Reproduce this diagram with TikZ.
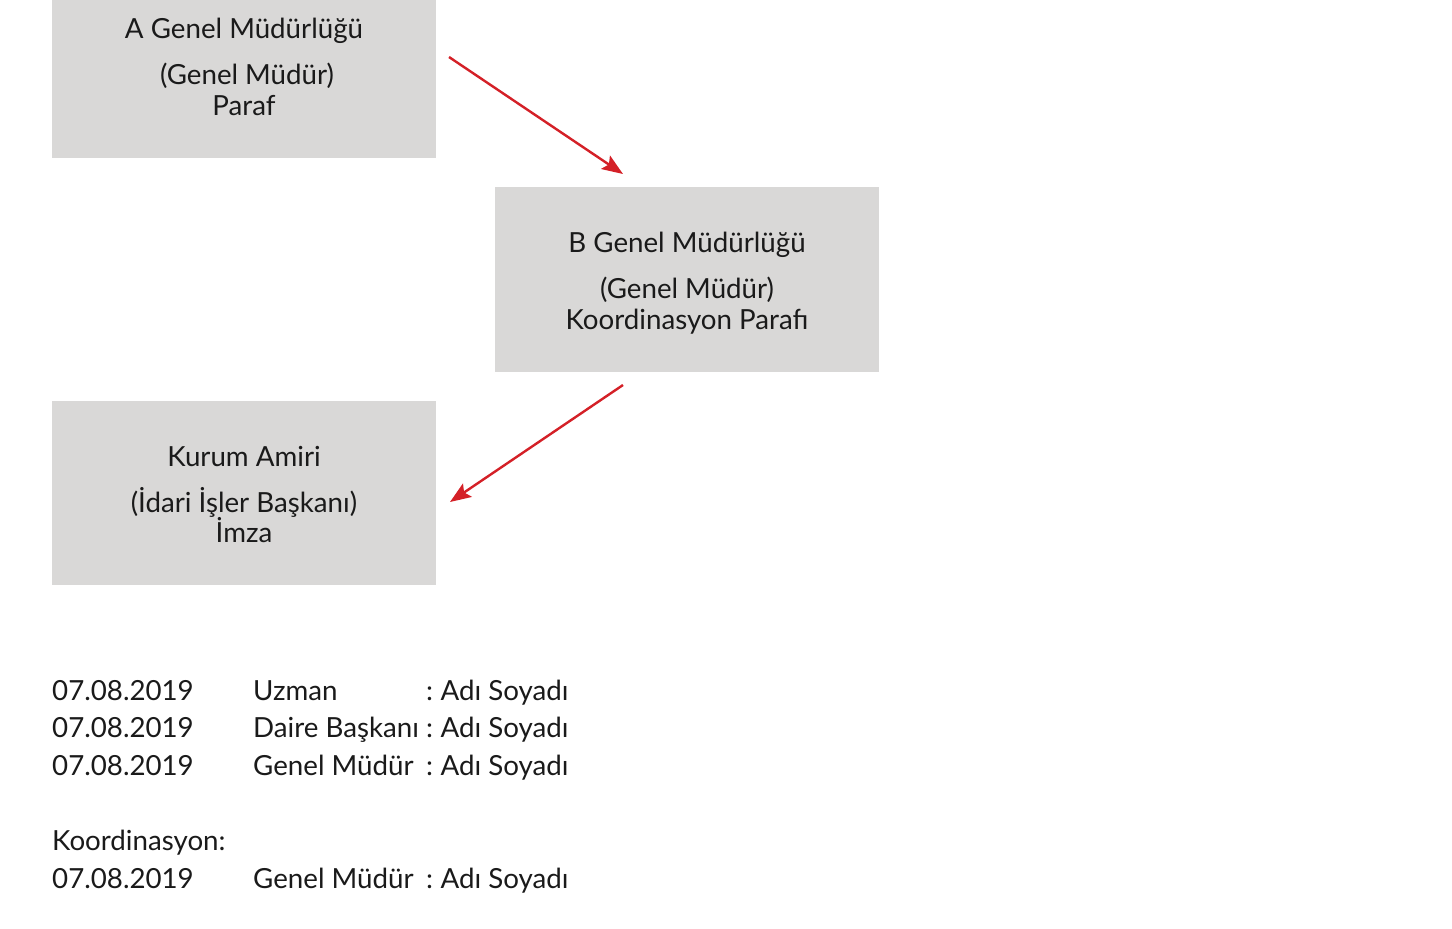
\documentclass[tikz,border=0pt]{standalone}
\usepackage{fontspec}
\setmainfont{Lato}
\usetikzlibrary{arrows.meta}
\definecolor{boxgray}{HTML}{D9D8D7}
\definecolor{arrred}{HTML}{D42027}
\definecolor{txt}{HTML}{1A1A1A}
\tikzset{
  box/.style={fill=boxgray, draw=none, minimum width=384pt, inner sep=0pt, outer sep=0pt},
  line/.style={anchor=base, inner sep=0pt, font=\fontsize{27.7}{31}\selectfont, text=txt},
  leftline/.style={anchor=base west, inner sep=0pt, font=\fontsize{27.7}{31}\selectfont, text=txt},
  redarrow/.style={draw=arrred, line width=2.4pt, -{Stealth[length=21pt,width=16pt,inset=4pt]}}
}
\newcommand{\adsoy}{:\hspace{7.5pt}Adı Soyadı}
\begin{document}
\begin{tikzpicture}[x=1pt,y=-1pt]
\useasboundingbox (0,0) rectangle (1452,929);
% boxes
\node[box, minimum height=158pt, anchor=north west] (boxA) at (52,0) {};
\node[box, minimum height=185pt, anchor=north west] (boxB) at (495,187) {};
\node[box, minimum height=184pt, anchor=north west] (boxC) at (52,401) {};
% box texts
\node[line] (a1) at (244,38) {A Genel Müdürlüğü};
\node[line] (a2) at (247,84) {(Genel Müdür)};
\node[line] (a3) at (244,115) {Paraf};
\node[line] (b1) at (687,252) {B Genel Müdürlüğü};
\node[line] (b2) at (687,298) {(Genel Müdür)};
\node[line] (b3) at (687,329) {Koordinasyon Parafı};
\node[line] (c1) at (244,466) {Kurum Amiri};
\node[line] (c2) at (244,512) {(İdari İşler Başkanı)};
\node[line] (c3) at (244,542) {İmza};
% arrows
\coordinate (p1) at (449,57);
\coordinate (p2) at (623,174);
\coordinate (p3) at (623,385);
\coordinate (p4) at (450,502);
\draw[redarrow] (p1) -- (p2);
\draw[redarrow] (p3) -- (p4);
% list
\node[leftline] (d1) at (52,700) {07.08.2019};
\node[leftline] (r1) at (253,700) {Uzman};
\node[leftline] (n1) at (426,700) {\adsoy};
\node[leftline] (d2) at (52,737) {07.08.2019};
\node[leftline] (r2) at (253,737) {Daire Başkanı};
\node[leftline] (n2) at (426,737) {\adsoy};
\node[leftline] (d3) at (52,775) {07.08.2019};
\node[leftline] (r3) at (253,775) {Genel Müdür};
\node[leftline] (n3) at (426,775) {\adsoy};
\node[leftline] (k0) at (52,850) {Koordinasyon:};
\node[leftline] (d4) at (52,888) {07.08.2019};
\node[leftline] (r4) at (253,888) {Genel Müdür};
\node[leftline] (n4) at (426,888) {\adsoy};
\end{tikzpicture}
\end{document}
